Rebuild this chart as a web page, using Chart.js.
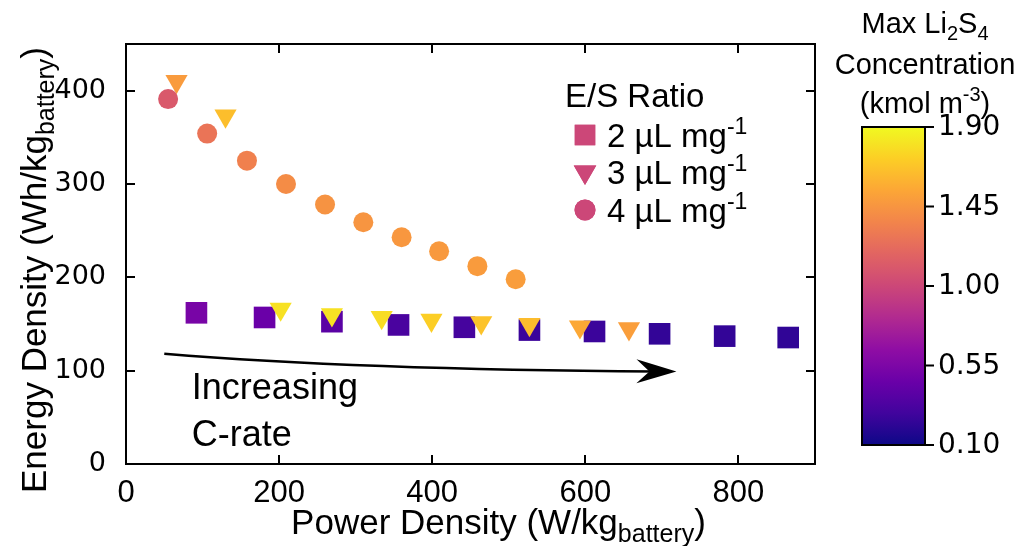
<!DOCTYPE html>
<html>
<head>
<meta charset="utf-8">
<script src="https://cdn.jsdelivr.net/npm/chart.js@4.4.1/dist/chart.umd.min.js"></script>
<style>
  html, body { margin: 0; padding: 0; background: #fff; }
  #wrap { width: 1022px; height: 546px; position: relative; }
</style>
</head>
<body>
<div id="wrap"><canvas id="chart"></canvas></div>
<script>
// === Data ===

// E/S = 2 uL/mg  (squares)
const powerE2 = [92, 181, 269, 356, 442, 527, 612, 697, 782, 865];
const energyE2 = [162, 157, 152.5, 149, 146.5, 143.5, 142, 139.5, 137, 135.5];
const concE2 = [0.53, 0.46, 0.39, 0.32, 0.30, 0.26, 0.26, 0.23, 0.23, 0.22];

// E/S = 3 uL/mg  (down triangles)
const powerE3 = [66, 130, 202, 269, 334, 399, 464, 527, 593, 657];
const energyE3 = [410, 373, 166, 160, 157, 154, 151.5, 149.5, 147, 145];
const concE3 = [1.48, 1.65, 1.80, 1.80, 1.78, 1.72, 1.67, 1.64, 1.55, 1.50];

// E/S = 4 uL/mg  (circles)
const powerE4 = [55, 106, 158, 209, 260, 310, 360, 409, 459, 509];
const energyE4 = [391, 354, 325, 300, 278, 259, 243, 228, 212, 198];
const concE4 = [1.11, 1.27, 1.34, 1.40, 1.44, 1.45, 1.46, 1.47, 1.48, 1.49];

const seriesLabels = ['2 \u00b5L mg', '3 \u00b5L mg', '4 \u00b5L mg'];
const xTicks = [0, 200, 400, 600, 800];
const yTicks = [0, 100, 200, 300, 400];
const cbarTicks = [0.10, 0.55, 1.00, 1.45, 1.90];
const cbarMin = 0.10;
const cbarMax = 1.90;

// plasma colormap stops
const plasma = [
  [13, 8, 135], [65, 4, 157], [106, 0, 168], [143, 13, 164], [177, 42, 144],
  [204, 71, 120], [225, 100, 98], [242, 132, 75], [252, 166, 54], [252, 206, 37], [240, 249, 33]
];

function plasmaColor(t) {
  t = Math.max(0, Math.min(1, t));
  const f = t * (plasma.length - 1);
  const i = Math.min(Math.floor(f), plasma.length - 2);
  const k = f - i;
  const c = plasma[i].map((v, j) => Math.round(v + (plasma[i + 1][j] - v) * k));
  return `rgb(${c[0]},${c[1]},${c[2]})`;
}

function concColor(c) {
  return plasmaColor((c - cbarMin) / (cbarMax - cbarMin));
}

const toPoints = (xs, ys) => xs.map((x, i) => ({ x, y: ys[i] }));

const SANS = '"Liberation Sans", Arial, sans-serif';
const DEJAVU = '"DejaVu Sans", sans-serif';

// draw text with sub/superscript parts: [text, mode] mode 0 normal, -1 sub, 1 sup
function richText(ctx, parts, x, y, size, family, align) {
  const small = Math.round(size * 0.7);
  let total = 0;
  const widths = parts.map(([t, m]) => {
    ctx.font = `${m ? small : size}px ${family}`;
    const w = ctx.measureText(t).width;
    total += w;
    return w;
  });
  let cx = align === 'center' ? x - total / 2 : (align === 'right' ? x - total : x);
  ctx.textAlign = 'left';
  ctx.textBaseline = 'alphabetic';
  parts.forEach(([t, m], i) => {
    ctx.font = `${m ? small : size}px ${family}`;
    const dy = m === -1 ? size * 0.24 : (m === 1 ? -size * 0.4 : 0);
    ctx.fillText(t, cx, y + dy);
    cx += widths[i];
  });
}

// === Decorations: frame, inward ticks, titles, legend, arrow, colorbar ===
const decor = {
  id: 'decor',
  afterDraw(chart) {
    const ctx = chart.ctx;
    const a = chart.chartArea;
    const xs = chart.scales.x;
    const ys = chart.scales.y;
    ctx.save();
    ctx.fillStyle = '#000';
    ctx.strokeStyle = '#000';

    // frame
    ctx.lineWidth = 2;
    ctx.strokeRect(a.left, a.top, a.right - a.left, a.bottom - a.top);

    // inward ticks on all four sides
    const tl = 9;
    ctx.beginPath();
    xTicks.forEach(v => {
      const px = Math.round(xs.getPixelForValue(v));
      ctx.moveTo(px, a.bottom); ctx.lineTo(px, a.bottom - tl);
      ctx.moveTo(px, a.top); ctx.lineTo(px, a.top + tl);
    });
    yTicks.forEach(v => {
      const py = Math.round(ys.getPixelForValue(v));
      ctx.moveTo(a.left, py); ctx.lineTo(a.left + tl, py);
      ctx.moveTo(a.right, py); ctx.lineTo(a.right - tl, py);
    });
    ctx.stroke();

    // axis titles
    richText(ctx, [['Power Density (W/kg', 0], ['battery', -1], [')', 0]],
      (a.left + a.right) / 2 + 28, 534, 35, SANS, 'center');
    ctx.save();
    ctx.translate(46, (a.top + a.bottom) / 2 + 16);
    ctx.rotate(-Math.PI / 2);
    richText(ctx, [['Energy Density (Wh/kg', 0], ['battery', -1], [')', 0]], 0, 0, 35, SANS, 'center');
    ctx.restore();

    // legend
    const lx = 565;
    richText(ctx, [['E/S Ratio', 0]], lx, 107, 33, SANS, 'left');
    const styles = ['rect', 'triangle', 'circle'];
    const radii = [14.5, 13, 10.5];
    const rots = [0, 180, 0];
    const rowsY = [135, 172, 210];
    seriesLabels.forEach((lab, i) => {
      ctx.fillStyle = concColor(1.0);
      Chart.helpers.drawPoint(ctx, { pointStyle: styles[i], rotation: rots[i], radius: radii[i], borderWidth: 0 }, lx + 20, rowsY[i]);
      ctx.fill();
      ctx.fillStyle = '#000';
      richText(ctx, [[lab, 0], ['-1', 1]], lx + 42, rowsY[i] + 12, 33, SANS, 'left');
    });

    // curved arrow (data coordinates)
    const p0 = [xs.getPixelForValue(50), ys.getPixelForValue(118)];
    const pc = [xs.getPixelForValue(300), ys.getPixelForValue(101)];
    const p1 = [xs.getPixelForValue(719), ys.getPixelForValue(99)];
    ctx.lineWidth = 2.5;
    ctx.beginPath();
    ctx.moveTo(p0[0], p0[1]);
    ctx.quadraticCurveTo(pc[0], pc[1], p1[0] - 20, p1[1]);
    ctx.stroke();
    const ang = Math.atan2(p1[1] - pc[1], p1[0] - pc[0]);
    ctx.save();
    ctx.translate(p1[0], p1[1]);
    ctx.rotate(ang);
    ctx.beginPath();
    ctx.moveTo(0, 0);
    ctx.lineTo(-40, -12);
    ctx.lineTo(-27, 0);
    ctx.lineTo(-40, 12);
    ctx.closePath();
    ctx.fill();
    ctx.restore();

    // annotation text
    ctx.font = `36px ${SANS}`;
    ctx.textAlign = 'left';
    ctx.textBaseline = 'alphabetic';
    ctx.fillText('Increasing', xs.getPixelForValue(86), ys.getPixelForValue(70));
    ctx.fillText('C-rate', xs.getPixelForValue(86), ys.getPixelForValue(19));

    // colorbar
    const cb = { left: 862, right: 925, top: 127, bottom: 445 };
    const grad = ctx.createLinearGradient(0, cb.bottom, 0, cb.top);
    for (let i = 0; i <= 20; i++) grad.addColorStop(i / 20, plasmaColor(i / 20));
    ctx.fillStyle = grad;
    ctx.fillRect(cb.left, cb.top, cb.right - cb.left, cb.bottom - cb.top);
    ctx.lineWidth = 2;
    ctx.strokeRect(cb.left, cb.top, cb.right - cb.left, cb.bottom - cb.top);
    ctx.fillStyle = '#000';
    ctx.font = `28px ${DEJAVU}`;
    ctx.textBaseline = 'middle';
    ctx.beginPath();
    cbarTicks.forEach(v => {
      const py = cb.bottom - (v - cbarMin) / (cbarMax - cbarMin) * (cb.bottom - cb.top);
      ctx.moveTo(cb.right, py); ctx.lineTo(cb.right + 9, py);
      ctx.fillText(v.toFixed(2), cb.right + 13, py + 1);
    });
    ctx.stroke();
    const cx = 925;
    richText(ctx, [['Max Li', 0], ['2', -1], ['S', 0], ['4', -1]], cx, 33, 29, SANS, 'center');
    richText(ctx, [['Concentration', 0]], cx, 74, 29, SANS, 'center');
    richText(ctx, [['(kmol m', 0], ['-3', 1], [')', 0]], cx, 113, 29, SANS, 'center');

    ctx.restore();
  }
};

const ctx = document.getElementById('chart').getContext('2d');
new Chart(ctx, {
  type: 'scatter',
  data: {
    datasets: [
      {
        label: seriesLabels[0],
        data: toPoints(powerE2, energyE2),
        pointStyle: 'rect',
        pointRadius: 15.3,
        pointBackgroundColor: concE2.map(concColor),
        pointBorderWidth: 0,
        order: 3
      },
      {
        label: seriesLabels[1],
        data: toPoints(powerE3, energyE3),
        pointStyle: 'triangle',
        rotation: 180,
        pointRadius: 12.8,
        pointBackgroundColor: concE3.map(concColor),
        pointBorderWidth: 0,
        order: 2
      },
      {
        label: seriesLabels[2],
        data: toPoints(powerE4, energyE4),
        pointStyle: 'circle',
        pointRadius: 10,
        pointBackgroundColor: concE4.map(concColor),
        pointBorderWidth: 0,
        order: 1
      }
    ]
  },
  options: {
    responsive: true,
    maintainAspectRatio: false,
    animation: false,
    layout: { padding: { left: 0, top: 44, right: 207, bottom: 0 } },
    plugins: {
      legend: { display: false },
      tooltip: { enabled: false }
    },
    scales: {
      x: {
        type: 'linear',
        min: 0,
        max: 900,
        grid: { display: false },
        border: { display: false },
        afterFit: s => { s.height = 82; },
        afterBuildTicks: s => { s.ticks = xTicks.map(v => ({ value: v })); },
        ticks: {
          color: '#000',
          padding: 3,
          font: { family: '"Liberation Sans Narrow", "Liberation Sans", sans-serif', size: 31 }
        }
      },
      y: {
        type: 'linear',
        min: 0,
        max: 450,
        grid: { display: false },
        border: { display: false },
        afterFit: s => { s.width = 126; },
        afterBuildTicks: s => { s.ticks = yTicks.map(v => ({ value: v })); },
        ticks: {
          color: '#000',
          padding: 12,
          font: { family: DEJAVU, size: 27 }
        }
      }
    }
  },
  plugins: [decor]
});
</script>
</body>
</html>
